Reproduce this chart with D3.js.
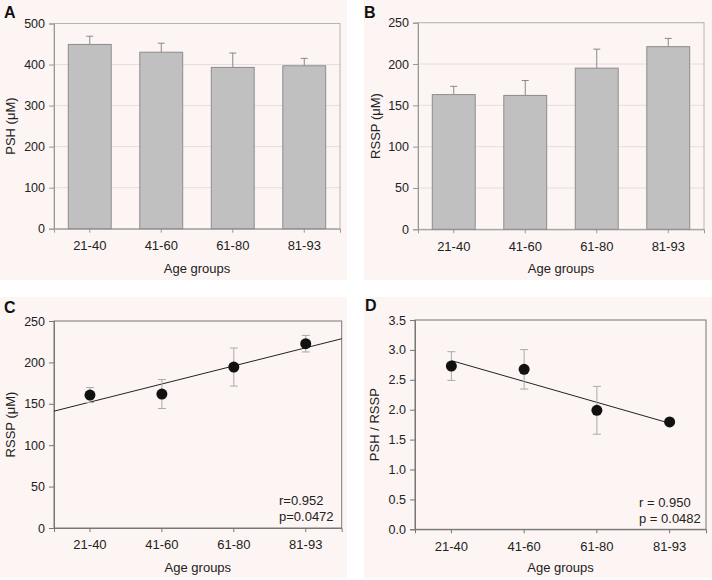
<!DOCTYPE html>
<html><head><meta charset="utf-8">
<script src="https://cdn.jsdelivr.net/npm/d3@7"></script>
<style>
html,body{margin:0;padding:0;background:#fff;}
svg{display:block;font-family:"Liberation Sans",Arial,sans-serif;}
</style></head>
<body>
<svg id="c" width="712" height="580"></svg>
<script>
const categories = ["21-40","41-60","61-80","81-93"];
const pshMean = [449, 430, 393, 397];
const pshErr  = [20, 22, 35, 18];
const rsspMean = [163, 162, 195, 221];
const rsspErr  = [10, 18, 23, 10];
const rsspTrend = [160.6, 161.8, 194.4, 222.6];
const rsspTrendErr = [9, 17.5, 23, 10];
const ratioMean = [2.73, 2.675, 1.99, 1.795];
const ratioErr  = [0.24, 0.33, 0.40, 0.03];
const ticksA = [0,100,200,300,400,500];
const ticksB = [0,50,100,150,200,250];
const ticksD = [0,0.5,1.0,1.5,2.0,2.5,3.0,3.5];
const statsC = ["r=0.952","p=0.0472"];
const statsD = ["r = 0.950","p = 0.0482"];

const svg = d3.select("#c");
const bg = "#fdf5f3";

function panel(o){
  const g = svg.append("g");
  g.append("rect").attr("x",o.bx).attr("y",o.by).attr("width",o.bw).attr("height",o.bh).attr("fill",bg);
  g.append("text").attr("x",o.lx).attr("y",o.ly).text(o.letter)
    .attr("font-weight","bold").attr("font-size",16).attr("fill","#111");
  const x = d3.scaleBand().domain(categories).range([o.l,o.r]).paddingInner(0.4).paddingOuter(0.2);
  const xi = d3.scaleLinear().domain([-0.5,3.5]).range([o.l,o.r]);
  const y = d3.scaleLinear().domain(o.ydom).range([o.b,o.t]);
  // gridlines
  if(o.grid){
    g.selectAll(".gl").data(o.ticks.filter(t=>t>0)).join("line")
      .attr("x1",o.l).attr("x2",o.r).attr("y1",d=>y(d)).attr("y2",d=>y(d))
      .attr("stroke","#e4dede").attr("stroke-width",1);
  }
  // frame
  g.append("rect").attr("x",o.l).attr("y",o.t).attr("width",o.r-o.l).attr("height",o.b-o.t)
    .attr("fill","none").attr("stroke",o.frame).attr("stroke-width",1);
  // y axis
  const ya = g.append("g").attr("transform",`translate(${o.l},0)`)
    .call(d3.axisLeft(y).tickValues(o.ticks).tickFormat(o.fmt).tickSize(5).tickPadding(4));
  ya.select(".domain").attr("stroke",o.axis);
  ya.selectAll(".tick line").attr("stroke",o.axis);
  ya.selectAll("text").attr("font-size",12.5).attr("fill","#222").attr("font-family","Liberation Sans, Arial, sans-serif");
  // x axis
  const xa = g.append("g").attr("transform",`translate(0,${o.b})`)
    .call(d3.axisBottom(x).tickSize(4).tickPadding(8));
  xa.select(".domain").attr("stroke",o.axis);
  xa.selectAll(".tick line").attr("stroke",o.axis);
  xa.selectAll("text").attr("font-size",13).attr("fill","#222").attr("font-family","Liberation Sans, Arial, sans-serif");
  // titles
  g.append("text").attr("x",(o.l+o.r)/2).attr("y",o.xty).attr("text-anchor","middle")
    .attr("font-size",13).attr("fill","#222").text("Age groups");
  g.append("text").attr("transform",`translate(${o.ytx},${(o.t+o.b)/2}) rotate(-90)`)
    .attr("text-anchor","middle").attr("font-size",13).attr("fill","#222").text(o.ytitle);
  return {g,x,xi,y};
}

function bars(p, mean, err){
  const {g,x,y} = p;
  const data = categories.map((c,i)=>({c,v:mean[i],e:err[i]}));
  g.selectAll(".eb").data(data).join("line")
    .attr("x1",d=>x(d.c)+x.bandwidth()/2).attr("x2",d=>x(d.c)+x.bandwidth()/2)
    .attr("y1",d=>y(d.v)).attr("y2",d=>y(d.v+d.e)).attr("stroke","#888").attr("stroke-width",1);
  g.selectAll(".ec").data(data).join("line")
    .attr("x1",d=>x(d.c)+x.bandwidth()/2-3.5).attr("x2",d=>x(d.c)+x.bandwidth()/2+3.5)
    .attr("y1",d=>y(d.v+d.e)).attr("y2",d=>y(d.v+d.e)).attr("stroke","#888").attr("stroke-width",1);
  g.selectAll(".bar").data(data).join("rect")
    .attr("x",d=>x(d.c)).attr("width",x.bandwidth())
    .attr("y",d=>y(d.v)).attr("height",d=>y(0)-y(d.v))
    .attr("fill","#c0c0c0").attr("stroke","#8c8c8c").attr("stroke-width",1);
}

function regress(vals){
  const n=vals.length, mx=(n-1)/2, my=d3.mean(vals);
  let sxy=0,sxx=0; vals.forEach((v,i)=>{sxy+=(i-mx)*(v-my); sxx+=(i-mx)*(i-mx);});
  const s=sxy/sxx; return i=>my+s*(i-mx);
}

function dots(p, mean, err, x0, x1, stats, sx, sy){
  const {g,xi,y} = p;
  const data = categories.map((c,i)=>({i,v:mean[i],e:err[i]}));
  const f = regress(mean);
  g.append("line").attr("x1",xi(x0)).attr("x2",xi(x1)).attr("y1",y(f(x0))).attr("y2",y(f(x1)))
    .attr("stroke","#222").attr("stroke-width",1);
  g.selectAll(".eb").data(data).join("line")
    .attr("x1",d=>xi(d.i)).attr("x2",d=>xi(d.i))
    .attr("y1",d=>y(d.v-d.e)).attr("y2",d=>y(d.v+d.e)).attr("stroke","#aaa").attr("stroke-width",1);
  [1,-1].forEach(sg=>{
    g.selectAll(".ec"+sg).data(data).join("line")
      .attr("x1",d=>xi(d.i)-4).attr("x2",d=>xi(d.i)+4)
      .attr("y1",d=>y(d.v+sg*d.e)).attr("y2",d=>y(d.v+sg*d.e)).attr("stroke","#aaa").attr("stroke-width",1);
  });
  g.selectAll(".dot").data(data).join("circle")
    .attr("cx",d=>xi(d.i)).attr("cy",d=>y(d.v)).attr("r",5.5).attr("fill","#111");
  stats.forEach((s,k)=>{
    g.append("text").attr("x",sx).attr("y",sy+k*16).attr("font-size",13).attr("fill","#222").text(s);
  });
}

const pA = panel({bx:0,by:0,bw:347,bh:280,letter:"A",lx:4,ly:18,l:54,r:340,t:23.5,b:228.7,
  ydom:[0,500],ticks:ticksA,fmt:d3.format("d"),grid:true,frame:"#b8b4b4",axis:"#999",
  xty:273,ytx:15,ytitle:"PSH (μM)"});
bars(pA, pshMean, pshErr);

const pB = panel({bx:364,by:0,bw:348,bh:280,letter:"B",lx:364,ly:18,l:418,r:704,t:22.7,b:229.3,
  ydom:[0,250],ticks:ticksB,fmt:d3.format("d"),grid:true,frame:"#b8b4b4",axis:"#999",
  xty:273,ytx:380,ytitle:"RSSP (μM)"});
bars(pB, rsspMean, rsspErr);

const pC = panel({bx:0,by:297,bw:347,bh:281,letter:"C",lx:4,ly:313,l:54,r:341.7,t:321,b:528,
  ydom:[0,250],ticks:ticksB,fmt:d3.format("d"),grid:false,frame:"#777",axis:"#777",
  xty:572,ytx:15,ytitle:"RSSP (μM)"});
dots(pC, rsspTrend, rsspTrendErr, -0.5, 3.5, statsC, 279, 505);

const pD = panel({bx:364,by:297,bw:348,bh:281,letter:"D",lx:365,ly:311,l:415,r:706,t:320,b:529.3,
  ydom:[0,3.5],ticks:ticksD,fmt:d3.format(".1f"),grid:false,frame:"#777",axis:"#777",
  xty:572,ytx:379,ytitle:"PSH / RSSP"});
dots(pD, ratioMean, ratioErr, 0, 3, statsD, 639, 507);
</script>
</body></html>
